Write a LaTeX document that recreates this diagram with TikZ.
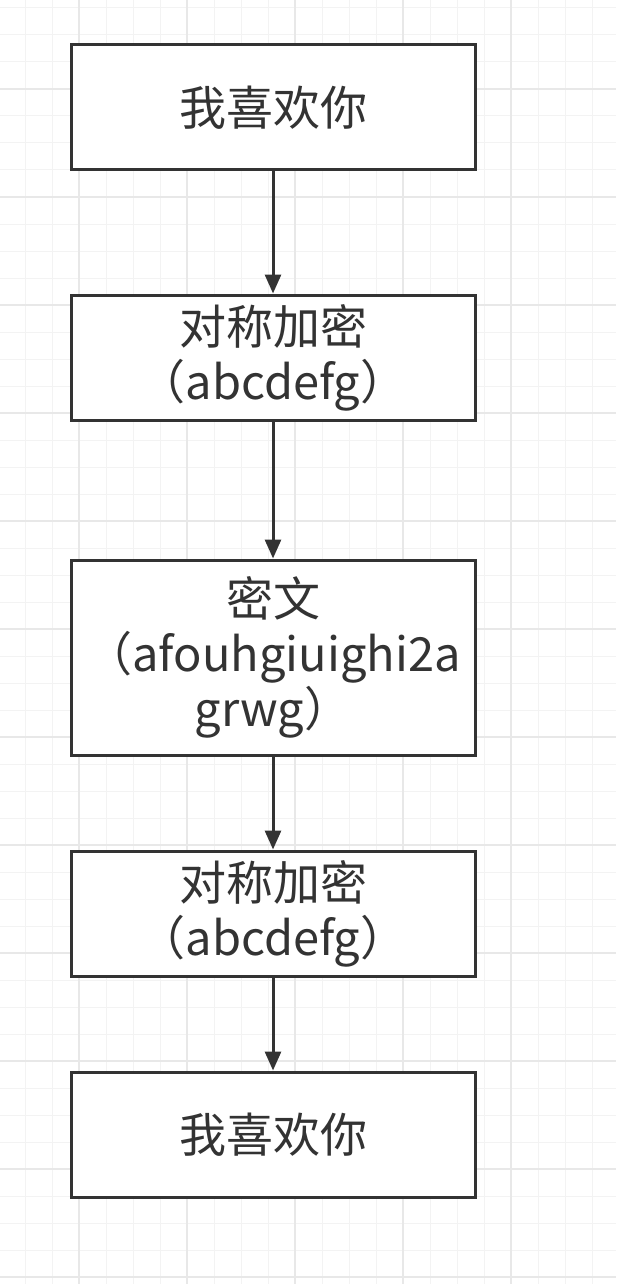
\documentclass[tikz,border=0pt]{standalone}
\usepackage{fontspec}
\newfontfamily\cjk{Noto Sans CJK SC}
\usetikzlibrary{arrows.meta}
\definecolor{minorgrid}{HTML}{F3F3F3}
\definecolor{majorgrid}{HTML}{E8E8E8}
\definecolor{ink}{HTML}{333333}
\tikzset{
  stepbox/.style={draw=ink, line width=3pt, fill=white, inner sep=0pt,
    minimum width=404pt, minimum height=125pt, align=center, text=ink,
    font=\cjk\fontsize{47}{55}\selectfont},
  arr/.style={draw=ink, line width=3pt, -{Triangle[width=16pt,length=19pt]}},
}
\begin{document}
\begin{tikzpicture}[x=1pt,y=-1pt]
\useasboundingbox (0,0) rectangle (616,1284);
\fill[white] (0,0) rectangle (616,1284);
% minor grid
\foreach \i in {-2,25,...,616} \draw[minorgrid, line width=1pt] (\i,0) -- (\i,1284);
\foreach \j in {8,35,...,1284} \draw[minorgrid, line width=1pt] (0,\j) -- (616,\j);
% major grid
\foreach \i in {79,187,...,616} \draw[majorgrid, line width=1.5pt] (\i,0) -- (\i,1284);
\foreach \j in {89,197,...,1284} \draw[majorgrid, line width=1.5pt] (0,\j) -- (616,\j);
% boxes
\node[stepbox] (b1) at (273,107.5) {我喜欢你};
\node[stepbox] (b2) at (273,357.5) {对称加密\\（abcdefg）};
\node[stepbox, minimum height=195pt] (b3) at (273,657.5) {密文\\（afouhgiuighi2a\\grwg）};
\node[stepbox] (b4) at (273,913.5) {对称加密\\（abcdefg）};
\node[stepbox] (b5) at (273,1134.5) {我喜欢你};
% arrows
\draw[arr] (b1.south) -- (b2.north);
\draw[arr] (b2.south) -- (b3.north);
\draw[arr] (b3.south) -- (b4.north);
\draw[arr] (b4.south) -- (b5.north);
\end{tikzpicture}
\end{document}
